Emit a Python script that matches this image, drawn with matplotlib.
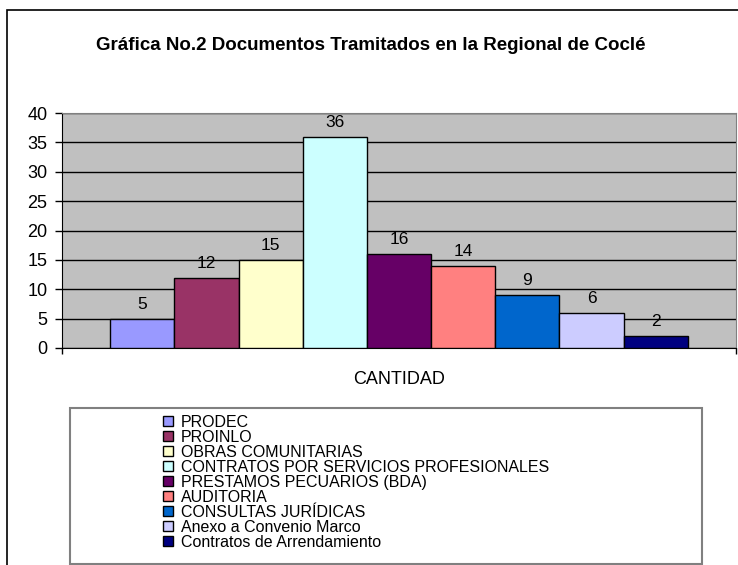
import numpy as np
import matplotlib as mpl
import matplotlib.pyplot as plt
from matplotlib.patches import Rectangle

# datos
categorias = ["PRODEC", "PROINLO", "OBRAS COMUNITARIAS",
              "CONTRATOS POR SERVICIOS PROFESIONALES",
              "PRESTAMOS PECUARIOS (BDA)", "AUDITORIA",
              "CONSULTAS JURÍDICAS", "Anexo a Convenio Marco",
              "Contratos de Arrendamiento"]
cantidad = [5, 12, 15, 36, 16, 14, 9, 6, 2]
colores = ["#9999FF", "#993366", "#FFFFCC", "#CCFFFF", "#660066",
           "#FF8080", "#0066CC", "#CCCCFF", "#000080"]
titulo = "Gráfica No.2 Documentos Tramitados en la Regional de Coclé"
etiqueta_x = "CANTIDAD"

W, H = 738, 565
plt.rcParams['font.family'] = ['Liberation Sans', 'DejaVu Sans']

fig = plt.figure(figsize=(W / 100, H / 100), dpi=100)

def px(x, y):
	# pixel (desde arriba) -> fraccion de figura
	return x / W, 1 - y / H

# area del grafico
left, top, right, bottom = 62, 113, 736, 348
ax = fig.add_axes([left / W, 1 - bottom / H, (right - left) / W, (bottom - top) / H])
ax.set_facecolor("#C0C0C0")

n = len(cantidad)
x = np.arange(n) - (n - 1) / 2
barras = ax.bar(x, cantidad, width=1.0, color=colores, edgecolor="black", linewidth=1, zorder=3)
for xi, v in zip(x, cantidad):
	ax.annotate(str(v), (xi, v), xytext=(0, 5), textcoords="offset points",
	            ha="center", va="bottom", fontsize=12.5, zorder=4)

ax.set_xlim(-n / 2 - 0.75, n / 2 + 0.75)
ax.set_ylim(0, 40)
ax.set_yticks(range(0, 41, 5))
ax.tick_params(axis="y", labelsize=13, length=5, width=1, direction="out", pad=5.5)
ax.set_xticks([ax.get_xlim()[0], ax.get_xlim()[1]])
ax.set_xticklabels([])
ax.tick_params(axis="x", length=4, width=1, direction="out")
ax.grid(which="major", axis="y", color="black", linewidth=1, zorder=1)
ax.set_axisbelow(True)
ax.spines["left"].set_color("black")
ax.spines["bottom"].set_color("black")
ax.spines["top"].set_color("#808080")
ax.spines["right"].set_color("#808080")
ax.set_xlabel(etiqueta_x, fontsize=13, labelpad=9)

# titulo
fig.text(*px(371, 46), titulo, ha="center", va="center", fontsize=13.5, fontweight="bold")

# marco exterior
fig.add_artist(Rectangle(px(7, 600), 1.2, (600 - 10) / H, transform=fig.transFigure,
                         fill=False, edgecolor="black", linewidth=1.2))

# caja de leyenda
fig.add_artist(Rectangle(px(70, 564), (702 - 70) / W, (564 - 408) / H, transform=fig.transFigure,
                         fill=False, edgecolor="#808080", linewidth=1.5))
fig.legend(barras, categorias, loc="upper left", bbox_to_anchor=px(163, 415),
           frameon=False, borderpad=0, borderaxespad=0, fontsize=11.5,
           handlelength=0.6, handleheight=0.6, handletextpad=0.5, labelspacing=0.0)

plt.savefig("out.png", dpi=100)
plt.close('all')
